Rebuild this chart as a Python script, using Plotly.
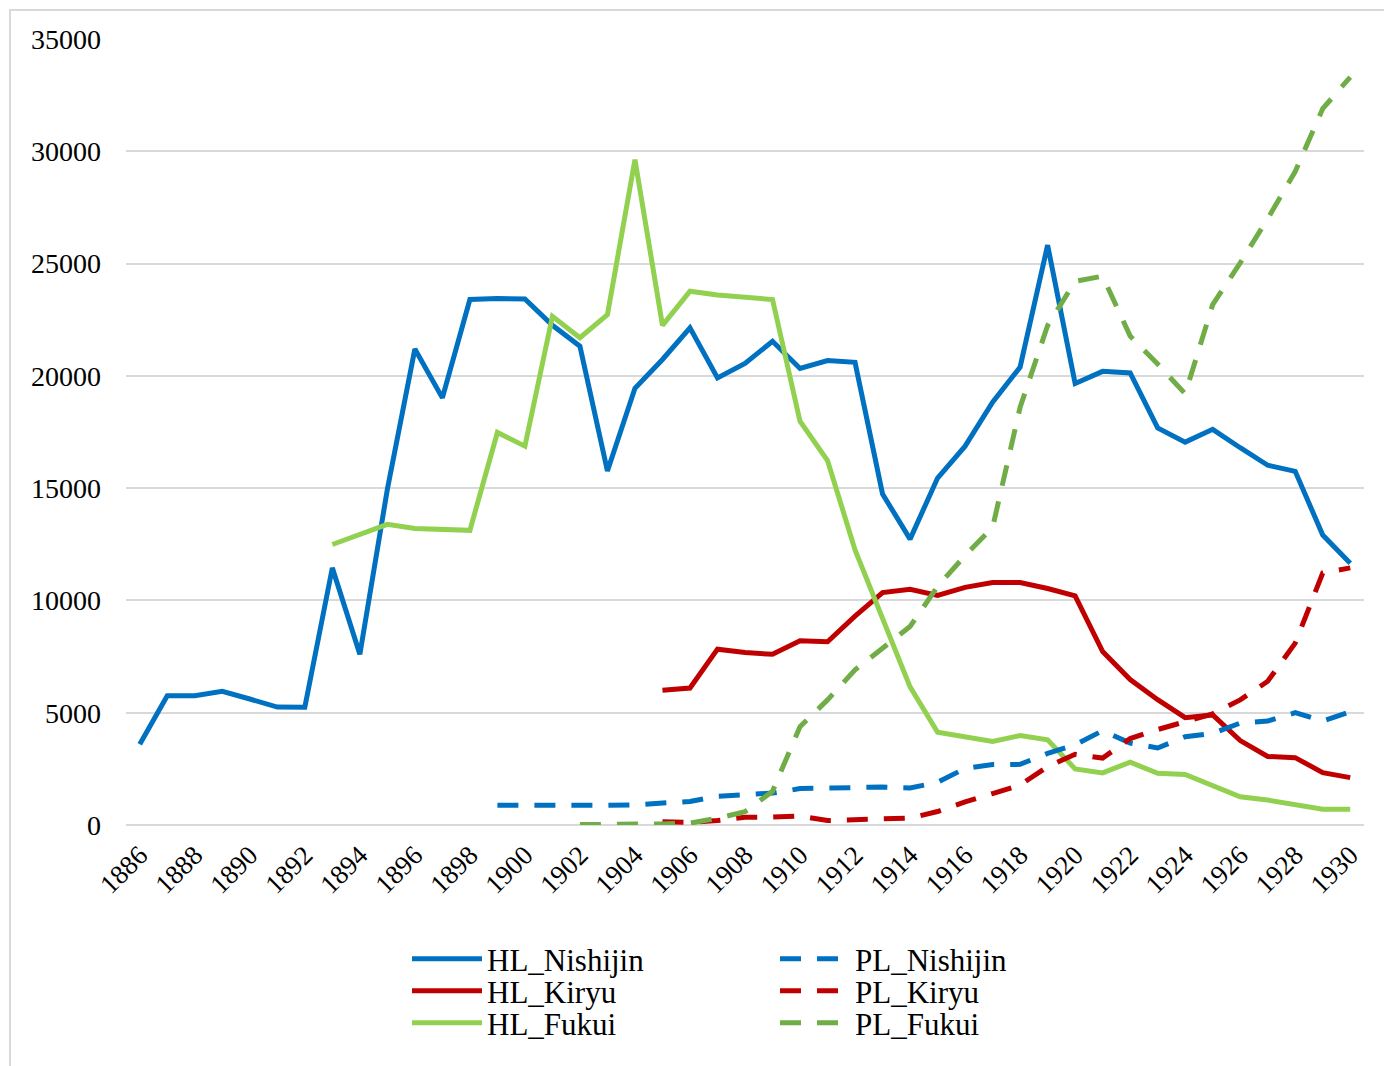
import plotly.graph_objects as go

years = list(range(1886, 1931))

hl_nishijin = [3600, 5760, 5760, 5950, 5610, 5250, 5240, 11450, 7600, 14950,
               21200, 19020, 23400, 23440, 23420, 22250, 21320, 15760, 19450, 20730,
               22140, 19910, 20550, 21540, 20330, 20680, 20600, 14740, 12730, 15450,
               16870, 18830, 20390, 25820, 19660, 20200, 20130, 17680, 17050, 17620,
               16800, 16020, 15750, 12910, 11660]

hl_kiryu_start = 1905
hl_kiryu = [6000, 6100, 7830, 7680, 7600, 8200, 8160, 9300, 10350, 10500,
            10220, 10580, 10800, 10800, 10530, 10200, 7720, 6480, 5580, 4780,
            4900, 3760, 3050, 3000, 2330, 2110]

hl_fukui_start = 1893
hl_fukui = [12490, 12950, 13390, 13200, 13160, 13120, 17480, 16870, 22650, 21700,
            22720, 29630, 22250, 23770, 23600, 23500, 23400, 17980, 16230, 12250,
            9150, 6150, 4130, 3920, 3720, 3980, 3790, 2500, 2320, 2800,
            2300, 2250, 1780, 1260, 1110, 920, 700, 700]

pl_nishijin_start = 1899
pl_nishijin = [880, 870, 870, 860, 880, 900, 950, 1050, 1280, 1350,
               1420, 1620, 1650, 1690, 1690, 1650, 1900, 2520, 2690, 2700,
               3190, 3570, 4200, 3650, 3430, 3930, 4080, 4540, 4630, 5000,
               4630, 5040]

pl_kiryu_start = 1905
pl_kiryu = [150, 120, 200, 340, 360, 400, 200, 230, 270, 310,
            600, 1030, 1400, 1780, 2600, 3150, 2980, 3850, 4250, 4600,
            4950, 5570, 6400, 8100, 11220, 11450]

pl_fukui_start = 1902
pl_fukui = [20, 20, 30, 50, 80, 300, 590, 1500, 4380, 5570,
            6910, 7900, 8840, 10620, 12000, 13250, 18600, 22240, 24210, 24440,
            21770, 20530, 19200, 23170, 25030, 27000, 29100, 31900, 33300]

tick_years = list(range(1886, 1931, 2))
tick_labels = [str(y) for y in tick_years]
y_ticks = list(range(0, 35001, 5000))

BLUE = "#0070C0"
RED = "#C00000"
LGREEN = "#92D050"
DGREEN = "#70AD47"
FONT = "Liberation Serif, Times New Roman, serif"
DASH = "21px,16px"
LW = 5

def yrs(start, vals):
    return list(range(start, start + len(vals)))

series = [
    ("HL_Nishijin", 1886, hl_nishijin, BLUE, "solid", "legend"),
    ("HL_Kiryu", hl_kiryu_start, hl_kiryu, RED, "solid", "legend2"),
    ("HL_Fukui", hl_fukui_start, hl_fukui, LGREEN, "solid", "legend3"),
    ("PL_Nishijin", pl_nishijin_start, pl_nishijin, BLUE, DASH, "legend4"),
    ("PL_Kiryu", pl_kiryu_start, pl_kiryu, RED, DASH, "legend5"),
    ("PL_Fukui", pl_fukui_start, pl_fukui, DGREEN, DASH, "legend6"),
]

fig = go.Figure()
for name, start, vals, color, dash, lg in series:
    fig.add_trace(go.Scatter(
        x=yrs(start, vals), y=vals, mode="lines", name=name,
        line=dict(color=color, width=LW, dash=dash),
        legend=lg, hoverinfo="x+y+name"))

# page offset (body margin) compensation
OFF = 8
W, H = 1392 - OFF, 1066 - OFF
# plot area in screen pixels: left 126, right 1364, top 39, bottom 825
L, T = 126 - OFF, 39 - OFF
R = (1392 - 1364)
B = (1066 - 825)
pw = W - L - R
ph = H - T - B

def px_to_paper_x(px):
    return (px - OFF - L) / pw

def py_to_paper_y(py):
    return (T + ph - (py - OFF)) / ph

leg_common = dict(font=dict(family=FONT, size=31, color="#000000"),
                  bgcolor="rgba(0,0,0,0)", borderwidth=0, itemwidth=70,
                  xanchor="left", yanchor="middle", orientation="v")
row_y = [959, 991, 1023]
col_x = [407, 775]
legends = {}
names = ["legend", "legend2", "legend3", "legend4", "legend5", "legend6"]
for k, lname in enumerate(names):
    col = 0 if k < 3 else 1
    row = k % 3
    legends[lname] = dict(leg_common, x=px_to_paper_x(col_x[col]),
                          y=py_to_paper_y(row_y[row]))

fig.update_layout(
    width=W, height=H,
    margin=dict(l=L, r=R, t=T, b=B),
    paper_bgcolor="white", plot_bgcolor="white",
    font=dict(family=FONT, color="#000000"),
    showlegend=True,
    xaxis=dict(range=[1885.5, 1930.5], tickmode="array", tickvals=tick_years,
               ticktext=tick_labels, tickangle=-45, showgrid=False, zeroline=False,
               showline=False, ticks="", tickfont=dict(family=FONT, size=27, color="#000000"),
               ticklabelstandoff=8),
    yaxis=dict(range=[0, 35000], tickmode="array", tickvals=y_ticks,
               ticktext=[str(v) for v in y_ticks], showgrid=True, gridcolor="#d9d9d9",
               gridwidth=1.5, zeroline=True, zerolinecolor="#d9d9d9", zerolinewidth=1.5,
               showline=False, ticks="", tickfont=dict(family=FONT, size=28, color="#000000"),
               ticklabelstandoff=24),
    shapes=[dict(type="rect", xref="paper", yref="paper",
                 x0=px_to_paper_x(10), x1=px_to_paper_x(1420),
                 y0=py_to_paper_y(1090), y1=py_to_paper_y(10),
                 line=dict(color="#d9d9d9", width=2), fillcolor="rgba(0,0,0,0)",
                 layer="below")],
    **legends,
)

fig.write_html("out.html")
